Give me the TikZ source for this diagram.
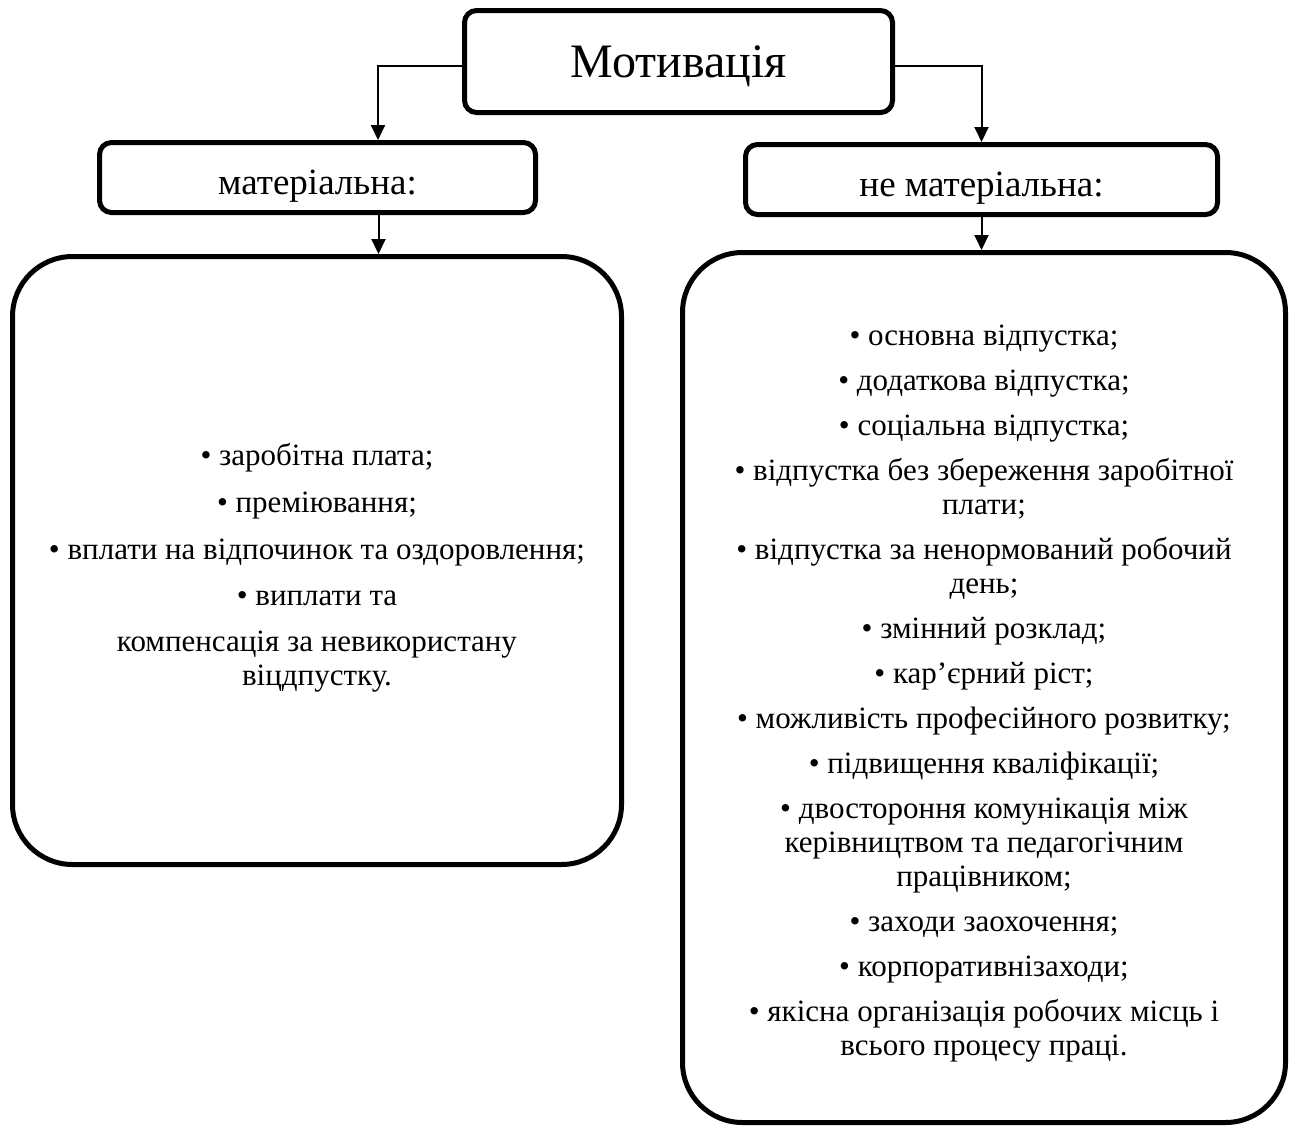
\documentclass[tikz,border=0pt]{standalone}
\usepackage{fontspec}
\setmainfont{Liberation Serif}
\usetikzlibrary{positioning}
\usetikzlibrary{arrows.meta}

\tikzset{
  headbox/.style={draw, line width=5pt, rounded corners=12pt, align=center, inner sep=0pt},
  listbox/.style={draw, line width=5pt, rounded corners=60pt, align=center, inner sep=0pt,
    font=\fontsize{31}{34}\selectfont},
  link/.style={line width=2pt, -{Triangle[length=15pt,width=14pt]}},
}

\begin{document}
\begin{tikzpicture}[x=1pt, y=-1pt]
    \useasboundingbox (0,0) rectangle (1298,1128);
    % top level
    \node[headbox, minimum width=428pt, minimum height=102pt, text depth=0pt,
      font=\fontsize{48}{50}\selectfont] (motiv) at (678.5,61.5) {Мотивація};
    \node[headbox, minimum width=436pt, minimum height=70pt, text height=33pt, text depth=0pt,
      font=\fontsize{37}{40}\selectfont] (mat) at (317.5,177.5) {матеріальна:};
    \node[headbox, minimum width=472pt, minimum height=70pt, text height=33pt, text depth=0pt,
      font=\fontsize{37}{40}\selectfont] (nonmat) at (981.5,179.5) {не матеріальна:};
    % lists
    \node[listbox, minimum width=609pt, minimum height=608pt] (matlist) at (317,560.5) {%
      \rule{0pt}{36pt}• заробітна плата;\\[13pt]
      • преміювання;\\[13pt]
      • вплати на відпочинок та оздоровлення;\\[12pt]
      • виплати та\\[12pt]
      компенсація за невикористану\\
      віцдпустку.};
    \node[listbox, minimum width=603pt, minimum height=870pt] (nonmatlist) at (984,687.5) {%
      \rule{0pt}{32pt}• основна відпустка;\\[11pt]
      • додаткова відпустка;\\[11pt]
      • соціальна відпустка;\\[11pt]
      • відпустка без збереження заробітної\\
      плати;\\[11pt]
      • відпустка за ненормований робочий\\
      день;\\[11pt]
      • змінний розклад;\\[11pt]
      • кар’єрний ріст;\\[11pt]
      • можливість професійного розвитку;\\[11pt]
      • підвищення кваліфікації;\\[11pt]
      • двостороння комунікація між\\
      керівництвом та педагогічним\\
      працівником;\\[11pt]
      • заходи заохочення;\\[11pt]
      • корпоративнізаходи;\\[11pt]
      • якісна організація робочих місць і\\
      всього процесу праці.};
    % connectors
    \draw[link] ([yshift=-4.5pt]motiv.west) -| ([xshift=60.5pt]mat.north);
    \draw[link] ([yshift=-4.5pt]motiv.east) -| (nonmat.north);
    \draw[link] ([xshift=61pt]mat.south) -- ([xshift=61pt]mat.south |- matlist.north);
    \draw[link] (nonmat.south) -- (nonmat.south |- nonmatlist.north);
\end{tikzpicture}
\end{document}
